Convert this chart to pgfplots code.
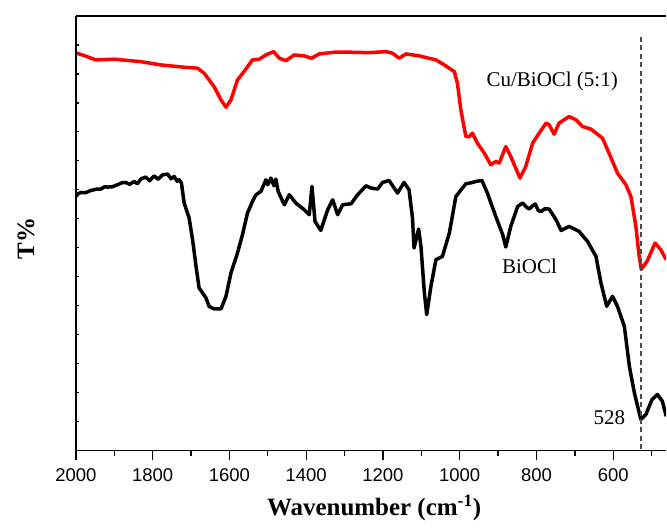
\documentclass[border=0pt]{standalone}
\usepackage{fontspec}
\setmainfont{Liberation Serif}
\newfontfamily\tickfont{Liberation Sans}
\usepackage{pgfplots}
\pgfplotsset{compat=1.18}
\begin{document}
\begin{tikzpicture}
\begin{axis}[
  scale only axis,
  width=591pt, height=435pt,
  x dir=reverse,
  xmin=462, xmax=2000,
  ymin=0, ymax=435,
  axis x line=box, axis y line=left,
  axis line style={line width=1.6pt, -},
  xtick={600,800,1000,1200,1400,1600,1800,2000},
  minor xtick={500,700,900,1100,1300,1500,1700,1900},
  ytick=\empty,
  xtick pos=bottom,
  x tick style={line width=1.3pt, black},
  xtick align=outside,
  major tick length=10pt,
  minor tick length=5.5pt,
  /pgf/number format/assume math mode=true,
  /pgf/number format/1000 sep={},
  tick label style={font=\tickfont\fontsize{18.5}{18.5}\selectfont},
  xticklabel style={yshift=-5pt},
  xlabel={\textbf{Wavenumber (cm\textsuperscript{-1})}},
  ylabel={\textbf{T\%}},
  label style={font=\fontsize{25}{28}\selectfont},
  xlabel style={yshift=-6pt, xshift=3pt},
  ylabel style={yshift=33pt, xshift=-5pt},
  clip=true,
]
\addplot[red, line width=3.5pt, line join=round] coordinates {
(2000,398) (1978,395.3) (1948,391) (1900,391.7) (1831,389.3) (1779,386)
(1718,383.7) (1683,382.7) (1666,377.7) (1640,364.3) (1622,351) (1609,343.7)
(1596,351) (1579,371) (1562,379.3) (1540,391) (1522,391.7) (1505,396)
(1485,399.3) (1470,392.7) (1453,390.3) (1431,396) (1405,395) (1386,392.7)
(1366,397) (1327,398.7) (1283,398.7) (1236,398.3) (1192,399.3) (1175,397.7)
(1158,392.7) (1140,397) (1105,395) (1062,391) (1040,386) (1014,379.3)
(1006,367.7) (997,341) (984,314.3) (975,314.3) (967,317.7) (954,307.7)
(936,297.7) (919,286) (906,289.3) (897,287.7) (880,304.3) (867,294.3)
(843,272.7) (828,284.3) (810,307.7) (793,317.7) (775,327.7) (767,326)
(754,316.7) (741,327.7) (715,334.3) (697,331) (680,324.3) (658,321.7)
(628,312.7) (611,297.7) (589,277.7) (567,266) (554,254.3) (541,224.3)
(533,196) (527,181.5) (518,186) (511,190) (491,207.7) (476,201) (462,191)
};
\addplot[black, line width=3.5pt, line join=round] coordinates {
(2000,254.3) (1994,257) (1987,258.3) (1975,258) (1961,260.3) (1948,261.5) (1935,261.7)
(1925,264) (1918,263.7) (1905,264) (1892,266) (1880,268) (1870,268.3) (1860,266.5)
(1848,269.3) (1840,267) (1830,272) (1818,273.7) (1808,270) (1796,275) (1786,271.5)
(1774,276) (1761,276.7) (1752,272) (1744,274.3) (1736,269.5) (1731,271) (1725,267.7)
(1718,247.7) (1705,232.7) (1696,211) (1687,184.3) (1679,162.7) (1661,152.7)
(1653,144.3) (1640,141.7) (1622,141.7) (1609,154.3) (1596,177.7) (1579,197.7)
(1566,216) (1553,237.7) (1540,249.3) (1531,256) (1518,259.3) (1505,271)
(1500,266) (1492,272.7) (1484,265) (1479,271.7) (1473,259.3) (1457,246) (1444,256)
(1427,247.7) (1405,241) (1392,236) (1385,264.3) (1377,229.3) (1362,220.3)
(1344,241) (1331,251) (1318,236) (1305,246) (1283,247) (1266,256) (1244,265)
(1231,262.7) (1214,261.7) (1201,268.3) (1184,270.3) (1162,257.7) (1145,268.3)
(1132,261) (1123,232.7) (1119,202.7) (1107,221.7) (1101,204.3) (1092,157.7)
(1086,136) (1075,164.3) (1062,191) (1045,194.3) (1027,217.7) (1010,254.3)
(984,267) (970,268) (958,269.3) (942,270.3) (928,257.7) (906,234.3) (888,216)
(880,203.7) (867,224.3) (849,244.3) (836,247.7) (827,244) (819,241.7) (810,245) (803,246.7)
(795,240) (788,239.3) (778,242) (767,241.7) (749,231) (736,220.3) (715,224.3)
(689,219.3) (667,209.3) (645,194.3) (632,167.7) (617,144.3) (602,154.3)
(589,144.3) (571,124.3) (558,84.3) (545,57.7) (528,31) (515,36) (499,51)
(485,56) (472,49.3) (462,34.3)
};
\addplot[black!70, line width=1.3pt, dash pattern=on 5pt off 3.5pt] coordinates {(528,414) (528,0)};
\node[font=\fontsize{21}{24}\selectfont] at (axis cs:759,369) {Cu/BiOCl (5:1)};
\node[font=\fontsize{21}{24}\selectfont] at (axis cs:818,184) {BiOCl};
\node[font=\fontsize{21}{24}\selectfont] at (axis cs:610,33) {528};
\end{axis}
\begin{axis}[
  scale only axis,
  width=591pt, height=435pt,
  xmin=462, xmax=2000,
  ymin=0, ymax=435,
  axis x line=none, axis y line=left,
  axis line style={line width=1.6pt, -},
  xtick=\empty,
  ytick={0,29,...,435},
  yticklabels={},
  ytick align=inside,
  y tick style={line width=1.3pt, black},
  major tick length=3pt,
]
\end{axis}
\path (current axis.south west) ++(-76pt,-78pt) rectangle ++(667pt,529pt);
\end{tikzpicture}
\end{document}
